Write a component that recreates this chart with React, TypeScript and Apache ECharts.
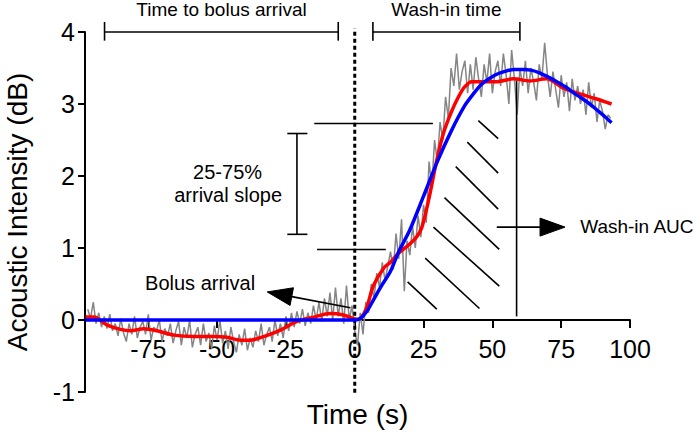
import React, { useEffect, useRef } from "react";
import * as echarts from "echarts";

const FONT = "'Liberation Sans', Arial, Helvetica, sans-serif";

// Raw acoustic intensity (grey), one sample per second starting at GREY_START
const GREY_START = -97;
const greyIntensity = [
  0.15, 0.02, 0.25, -0.05, 0.1, -0.1, 0.05, -0.12, 0.08, -0.15,
  -0.05, -0.22, 0.02, -0.18, -0.3, -0.05, -0.2, 0.05, -0.25, -0.1,
  -0.02, -0.2, 0.08, -0.28, -0.1, -0.15, 0.0, -0.3, -0.12, -0.22,
  -0.05, -0.32, -0.15, -0.02, -0.35, -0.1, -0.25, 0.0, -0.38, -0.2,
  -0.1, -0.35, -0.05, -0.3, -0.18, -0.4, -0.08, -0.28, 0.0, -0.32,
  -0.15, -0.4, -0.1, -0.3, -0.45, -0.2, -0.35, -0.12, -0.42, -0.25,
  -0.38, -0.15, -0.3, -0.05, -0.35, -0.2, -0.1, -0.3, 0.0, -0.22,
  -0.05, -0.25, 0.05, -0.15, 0.1, -0.1, 0.12, -0.05, 0.15, -0.08,
  0.1, -0.05, 0.2, 0.0, 0.25, -0.02, 0.3, 0.05, 0.38, 0.0,
  0.45, 0.05, 0.3, -0.05, 0.48, 0.0, 0.2, -0.15, -0.35, 0.1,
  -0.2, 0.25, 0.1, 0.5, 0.3, 0.65, 0.45, 0.8, 0.55, 0.75,
  0.95, 0.7, 1.2, 0.85, 1.4, 0.4, 1.1, 0.9, 1.3, 1.0,
  1.45, 1.15, 1.6, 1.35, 2.2, 1.85, 2.5, 2.2, 2.75, 2.5,
  3.1, 2.8, 3.5, 3.25, 3.7, 3.2, 3.45, 3.6, 3.15, 3.55,
  3.2, 3.65, 3.35, 3.1, 3.55, 3.3, 3.7, 3.15, 3.45, 3.6,
  3.25, 3.7, 3.4, 3.0, 3.75, 3.35, 2.85, 3.5, 3.25, 3.6,
  3.15, 3.5, 3.3, 3.05, 3.55, 3.35, 3.85, 3.4, 3.1, 3.45,
  3.2, 2.95, 3.4, 3.1, 3.3, 2.9, 3.35, 3.05, 3.25, 3.0,
  3.2, 2.85, 3.3, 2.95, 3.15, 2.75, 3.05, 2.9, 2.65, 2.85,
  2.8,
];

// Smoothed curve (red)
const redSmooth: [number, number][] = [
  [-97.8, 0.04], [-94.8, 0.04], [-89.9, -0.07], [-85.1, -0.13], [-81.5, -0.15],
  [-76.6, -0.12], [-71.8, -0.15], [-65.7, -0.21], [-58.5, -0.23], [-51.2, -0.23],
  [-46.4, -0.24], [-41.5, -0.28], [-37.9, -0.28], [-33.1, -0.23], [-27, -0.14],
  [-21, -0.02], [-14.9, 0.04], [-8.9, 0.09], [-4.1, 0.07], [0.8, 0.01],
  [2.5, 0.04], [4.4, 0.18], [6.8, 0.48], [10.5, 0.72], [12.9, 0.8],
  [16, 0.93], [20.1, 1.06], [22.6, 1.16], [24.4, 1.29], [26.8, 1.66],
  [29.8, 2.22], [32.2, 2.59], [35, 2.88], [37.7, 3.1], [40, 3.24],
  [42.5, 3.31], [46, 3.31], [51.6, 3.31], [57.6, 3.35], [63.7, 3.32],
  [69.7, 3.35], [75.8, 3.22], [81.8, 3.14], [87.9, 3.07], [93.3, 3.0],
];

// Model fit (blue)
const blueFit: [number, number][] = [
  [-97.8, 0], [-40, 0], [0, 0], [2, 0.02], [4.4, 0.12], [6.8, 0.28],
  [9.8, 0.48], [12.9, 0.67], [16, 0.95], [20, 1.25], [25, 1.72],
  [30, 2.2], [35, 2.62], [40, 2.98], [43.1, 3.14], [46, 3.27],
  [49.2, 3.36], [52, 3.42], [55.2, 3.46], [58, 3.48], [61.3, 3.48],
  [64, 3.47], [67.3, 3.43], [70, 3.38], [73.4, 3.31], [76.5, 3.24],
  [79.4, 3.16], [82.5, 3.08], [85.4, 3.0], [88.5, 2.9], [91, 2.82],
  [93.3, 2.74],
];

// Annotation segments in data coordinates
const annotationSegments: [number, number][][] = [
  // Time to bolus arrival bracket
  [[-90.9, 4.0], [-6.0, 4.0]], [[-90.9, 4.14], [-90.9, 3.88]], [[-6.0, 4.14], [-6.0, 3.88]],
  // Wash-in time bracket
  [[6.6, 4.0], [60.0, 4.0]], [[6.6, 4.14], [6.6, 3.88]], [[60.0, 4.14], [60.0, 3.88]],
  // 25-75% bracket
  [[-21, 2.59], [-21, 1.19]], [[-24.5, 2.59], [-17.2, 2.59]], [[-24.5, 1.19], [-17.2, 1.19]],
  // 25% and 75% levels
  [[-14.7, 2.73], [28.4, 2.73]], [[-13.7, 0.98], [11.3, 0.98]],
  // wash-in end marker
  [[58.8, 0.05], [58.8, 3.33]],
  // hatching of the wash-in AUC
  [[44.9, 2.77], [52.1, 2.52]], [[40.9, 2.47], [52.1, 2.04]], [[36.7, 2.13], [52.1, 1.54]],
  [[32.6, 1.7], [52.5, 0.98]], [[28.6, 1.29], [52.5, 0.47]], [[25.6, 0.86], [45.3, 0.16]],
  [[19.2, 0.53], [29.8, 0.15]],
];

const arrivalLine: [number, number][] = [[0, -1.01], [0, 4.05]];

// [tail, tip]
const arrowSegments: [number, number][][] = [
  [[-1.6, 0.17], [-31.8, 0.39]],
  [[51.6, 1.29], [76.4, 1.29]],
];

const textLabels = [
  { text: "Time to bolus arrival", x: -48.4, y: 4.31, size: 19, align: "center" },
  { text: "Wash-in time", x: 33.3, y: 4.31, size: 19, align: "center" },
  { text: "25-75%", x: -46.2, y: 2.06, size: 20, align: "center" },
  { text: "arrival slope", x: -46.0, y: 1.73, size: 20, align: "center" },
  { text: "Bolus arrival", x: -56.2, y: 0.51, size: 20, align: "center" },
  { text: "Wash-in AUC", x: 81.9, y: 1.3, size: 19, align: "left" },
];

const Y_MIN = -1;
const Y_MAX = 4;
const GRID_TOP = 32;
const GRID_BOTTOM = 40;
const CHART_H = 432;

export default function App() {
  const ref = useRef<HTMLDivElement>(null);

  useEffect(() => {
    if (!ref.current) return;
    const chart = echarts.init(ref.current, undefined, { renderer: "svg" });

    const greyData = greyIntensity.map((v, i) => [GREY_START + i, v]);

    // shift x axis from the grid bottom up to the y = 0 level
    const gridH = CHART_H - GRID_TOP - GRID_BOTTOM;
    const zeroOffset = -((0 - Y_MIN) / (Y_MAX - Y_MIN)) * gridH;

    const option: any = {
      animation: false,
      grid: {
        left: 85,
        right: 70,
        top: GRID_TOP,
        bottom: GRID_BOTTOM,
        containLabel: false,
        outerBoundsMode: "none",
      },
      xAxis: {
        type: "value",
        position: "bottom",
        offset: zeroOffset,
        min: -98,
        max: 100,
        minInterval: 25,
        maxInterval: 25,
        name: "Time (s)",
        nameLocation: "middle",
        nameGap: 80,
        nameTextStyle: { fontSize: 28, fontFamily: FONT, color: "#000" },
        axisLine: { onZero: false, lineStyle: { color: "#000", width: 2 } },
        axisTick: { show: true, length: 8, lineStyle: { color: "#000", width: 2 } },
        axisLabel: {
          showMinLabel: false,
          fontSize: 25,
          fontFamily: FONT,
          color: "#000",
          margin: 16,
        },
        splitLine: { show: false },
      },
      yAxis: {
        type: "value",
        min: Y_MIN,
        max: Y_MAX,
        interval: 1,
        name: "Acoustic Intensity (dB)",
        nameLocation: "middle",
        nameGap: 54,
        nameTextStyle: { fontSize: 28, fontFamily: FONT, color: "#000" },
        axisLine: { show: true, onZero: false, lineStyle: { color: "#000", width: 2 } },
        axisTick: { show: true, length: 7, lineStyle: { color: "#000", width: 2 } },
        axisLabel: { fontSize: 25, fontFamily: FONT, color: "#000", margin: 10 },
        splitLine: { show: false },
      },
      series: [
        {
          type: "line",
          name: "raw",
          data: greyData,
          showSymbol: false,
          symbol: "none",
          lineStyle: { color: "#858585", width: 1.5 },
          z: 2,
        },
        {
          type: "line",
          name: "smoothed",
          data: redSmooth,
          smooth: 0.3,
          showSymbol: false,
          symbol: "none",
          lineStyle: { color: "#ff0000", width: 3.5 },
          z: 4,
        },
        {
          type: "line",
          name: "fit",
          data: blueFit,
          smooth: 0.3,
          showSymbol: false,
          symbol: "none",
          lineStyle: { color: "#0000ff", width: 3.5 },
          z: 5,
        },
      ],
    };

    chart.setOption(option);

    const toPx = (p: [number, number]) =>
      chart.convertToPixel({ xAxisIndex: 0, yAxisIndex: 0 }, p) as number[];

    const graphics: any[] = [];

    annotationSegments.forEach(([a, b]) => {
      const pa = toPx(a);
      const pb = toPx(b);
      graphics.push({
        type: "line",
        silent: true,
        z: 3,
        shape: { x1: pa[0], y1: pa[1], x2: pb[0], y2: pb[1] },
        style: { stroke: "#000", lineWidth: 1.6 },
      });
    });

    {
      const pa = toPx(arrivalLine[0]);
      const pb = toPx(arrivalLine[1]);
      graphics.push({
        type: "line",
        silent: true,
        z: 3,
        shape: { x1: pa[0], y1: pa[1], x2: pb[0], y2: pb[1] },
        style: { stroke: "#000", lineWidth: 3, lineDash: [4, 3], lineCap: "butt" },
      });
    }

    arrowSegments.forEach(([tail, tip]) => {
      const pt = toPx(tail);
      const pp = toPx(tip);
      const dx = pp[0] - pt[0];
      const dy = pp[1] - pt[1];
      const len = Math.sqrt(dx * dx + dy * dy);
      const ux = dx / len;
      const uy = dy / len;
      const headLen = 25;
      const headW = 18;
      const bx = pp[0] - ux * headLen;
      const by = pp[1] - uy * headLen;
      graphics.push({
        type: "line",
        silent: true,
        z: 3,
        shape: { x1: pt[0], y1: pt[1], x2: bx, y2: by },
        style: { stroke: "#000", lineWidth: 1.6 },
      });
      graphics.push({
        type: "polygon",
        silent: true,
        z: 3,
        shape: {
          points: [
            [pp[0], pp[1]],
            [bx - uy * headW / 2, by + ux * headW / 2],
            [bx + uy * headW / 2, by - ux * headW / 2],
          ],
        },
        style: { fill: "#000", stroke: "#000", lineWidth: 1 },
      });
    });

    textLabels.forEach((l) => {
      const p = toPx([l.x, l.y]);
      graphics.push({
        type: "text",
        x: p[0],
        y: p[1],
        silent: true,
        z: 10,
        style: {
          text: l.text,
          fontSize: l.size,
          fontFamily: FONT,
          fill: "#000",
          textAlign: l.align,
          textVerticalAlign: "middle",
          align: l.align,
          verticalAlign: "middle",
        },
      });
    });

    chart.setOption({ graphic: graphics });

    return () => chart.dispose();
  }, []);

  return <div ref={ref} style={{ width: 700, height: 432, position: "absolute", left: 0, top: 0 }} />;
}
